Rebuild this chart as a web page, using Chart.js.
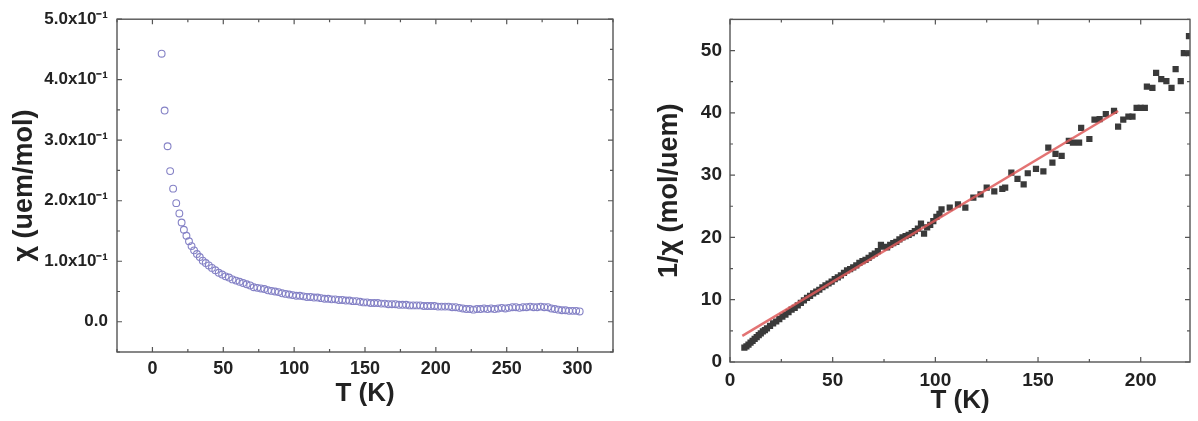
<!DOCTYPE html>
<html>
<head>
<meta charset="utf-8">
<script src="https://cdn.jsdelivr.net/npm/chart.js@4.4.0/dist/chart.umd.min.js"></script>
<style>
  html, body { margin: 0; padding: 0; background: #ffffff; }
  #wrap { position: relative; width: 1198px; height: 421px; overflow: hidden; }
  canvas { position: absolute; top: 0; }
  #c1 { left: 0; }
  #c2 { left: 600px; }
</style>
</head>
<body>
<div id="wrap">
  <canvas id="c1" width="620" height="421"></canvas>
  <canvas id="c2" width="598" height="421"></canvas>
</div>
<script>
// ---------- Left panel: chi vs T ----------
const chiT = [6.5, 8.6, 10.7, 12.5, 14.6, 16.8, 19, 20.6, 22.2, 24, 25.8, 27.6, 29.4, 31.4, 33.4, 35.5, 37.6, 39.8, 42, 44.4,
  46.8, 49.2, 51.6, 54, 56.5, 59, 61.5, 64, 66.5, 69, 71.5, 74, 76.5, 79, 81.5, 84, 86.5, 89, 91.5, 94,
  96.5, 99, 101.5, 104, 106.5, 109, 111.5, 114, 116.5, 119, 121.5, 124, 126.5, 129, 131.5, 134, 136.5, 139, 141.5, 144,
  146.5, 149, 151.5, 154, 156.5, 159, 161.5, 164, 166.5, 169, 171.5, 174, 176.5, 179, 181.5, 184, 186.5, 189, 191.5, 194,
  196.5, 199, 201.5, 204, 206.5, 209, 211.5, 214, 216.5, 219, 221.5, 224, 226.5, 229, 231.5, 234, 236.5, 239, 241.5, 244,
  246.5, 249, 251.5, 254, 256.5, 259, 261.5, 264, 266.5, 269, 271.5, 274, 276.5, 279, 281.5, 284, 286.5, 289, 291.5, 294,
  296.5, 299, 301.5];
const chiValues = [0.443, 0.349, 0.290, 0.249, 0.220, 0.196, 0.179, 0.164, 0.152, 0.142, 0.133, 0.125, 0.118, 0.112, 0.107, 0.101, 0.097, 0.093, 0.089, 0.085,
  0.081, 0.078, 0.075, 0.073, 0.070, 0.068, 0.066, 0.064, 0.062, 0.060, 0.057, 0.056, 0.055, 0.054, 0.052, 0.051, 0.050, 0.049, 0.047, 0.046,
  0.045, 0.044, 0.043, 0.043, 0.042, 0.041, 0.041, 0.040, 0.040, 0.039, 0.038, 0.038, 0.037, 0.037, 0.036, 0.036, 0.035, 0.035, 0.034, 0.034,
  0.033, 0.032, 0.032, 0.031, 0.031, 0.031, 0.030, 0.030, 0.029, 0.029, 0.029, 0.028, 0.028, 0.028, 0.027, 0.027, 0.027, 0.027, 0.026, 0.026,
  0.026, 0.026, 0.025, 0.025, 0.025, 0.025, 0.024, 0.024, 0.023, 0.022, 0.021, 0.021, 0.020, 0.021, 0.021, 0.022, 0.021, 0.022, 0.021, 0.022,
  0.023, 0.022, 0.023, 0.024, 0.024, 0.023, 0.024, 0.024, 0.025, 0.024, 0.024, 0.025, 0.024, 0.024, 0.022, 0.021, 0.020, 0.019, 0.019, 0.018,
  0.018, 0.018, 0.017];
const leftXTickValues = [0, 50, 100, 150, 200, 250, 300];
const leftYTickValues = [0, 0.1, 0.2, 0.3, 0.4, 0.5];
const leftYTickLabels = ['0.0', '1.0x10\u207B\u00B9', '2.0x10\u207B\u00B9', '3.0x10\u207B\u00B9', '4.0x10\u207B\u00B9', '5.0x10\u207B\u00B9'];

// ---------- Right panel: 1/chi vs T ----------
const invT = [7, 8, 9, 10, 11, 12, 13, 14, 15, 16, 17, 18, 19.5, 21, 22.5, 24, 25.5, 27, 28.5, 30,
  31.5, 33, 34.5, 36, 37.5, 39, 40.5, 42, 43.5, 45, 46.5, 48, 49.5, 51, 52.5, 54, 55.5, 57, 58.5, 60,
  61.5, 63, 64.5, 66, 67.5, 69, 70.5, 72, 73.5, 75, 76.5, 78, 79.5, 81, 82.5, 84, 85.5, 87, 88.5, 90,
  91.5, 93, 94.5, 96, 97.5, 99, 100.5, 102,
  103, 107, 111, 114.6, 118.5, 122, 125, 128.7, 132.6, 134, 137, 140, 143, 145, 149, 152.6, 155, 157, 158.5, 161.5,
  165, 167, 170, 171, 175, 177.5, 180, 183, 187, 189, 191.5, 194, 196, 198, 200, 202, 203, 205.7, 207.5, 210,
  212.5, 215, 217, 219.5, 221, 223.5, 223.5];
const invChiValues = [2.3, 2.5, 2.8, 3.1, 3.4, 3.7, 4.0, 4.3, 4.6, 4.9, 5.1, 5.4, 5.8, 6.2, 6.5, 6.9, 7.3, 7.6, 8.0, 8.4,
  8.7, 9.1, 9.5, 9.9, 10.3, 10.6, 11.0, 11.3, 11.6, 12.0, 12.3, 12.6, 12.9, 13.3, 13.6, 13.9, 14.3, 14.7, 14.9, 15.2,
  15.5, 15.9, 16.2, 16.4, 16.7, 17.1, 17.4, 17.8, 18.8, 18.5, 18.4, 18.8, 19.1, 19.3, 19.7, 20.0, 20.2, 20.4, 20.7, 21.0,
  21.4, 22.2, 20.6, 21.6, 22.0, 22.6, 23.3, 23.8,
  24.5, 24.8, 25.3, 24.8, 26.4, 26.9, 28.0, 27.4, 27.8, 28.0, 30.4, 29.4, 28.5, 30.3, 31.0, 30.6, 34.4, 32.0, 33.4, 33.1,
  35.5, 35.2, 35.2, 37.6, 35.8, 38.9, 39.0, 39.8, 40.3, 37.8, 38.9, 39.4, 39.4, 40.8, 40.8, 40.8, 44.2, 44.0, 46.4, 45.4,
  45.1, 44.0, 47.0, 45.1, 49.6, 49.6, 52.3];
const fitT = [6, 189];
const fitValues = [4.2, 40.3];
const rightXTickValues = [0, 50, 100, 150, 200];
const rightYTickValues = [0, 10, 20, 30, 40, 50];

const FONT = "'Liberation Sans', Arial, sans-serif";
const TXT = '#222222';

function pts(xs, ys) { return xs.map((x, i) => ({ x: x, y: ys[i] })); }
function fixTicks(vals) { return (s) => { s.ticks = vals.map(v => ({ value: v })); }; }

// frame + inward ticks on all four sides, positioned by the chart's own scales
const framePlugin = {
  id: 'frame',
  afterDatasetsDraw(chart) {
    const { ctx, chartArea: a, scales } = chart;
    ctx.save();
    ctx.strokeStyle = '#555555';
    ctx.lineWidth = 1.4;
    ctx.strokeRect(a.left, a.top, a.right - a.left, a.bottom - a.top);
    ctx.lineWidth = 1.2;
    const marks = (s) => {
      const v = s.ticks.map(t => t.value);
      const step = v[1] - v[0];
      const half = step / 2;
      const out = [];
      const start = Math.ceil((s.min - 1e-9) / half);
      const end = Math.floor((s.max + 1e-9) / half);
      for (let k = start; k <= end; k++) {
        out.push({ v: k * half, major: Math.abs(k % 2) === 0 });
      }
      return out;
    };
    marks(scales.x).forEach(m => {
      const px = scales.x.getPixelForValue(m.v);
      const L = m.major ? 5 : 3;
      ctx.beginPath();
      ctx.moveTo(px, a.bottom); ctx.lineTo(px, a.bottom - L);
      ctx.moveTo(px, a.top); ctx.lineTo(px, a.top + L);
      ctx.stroke();
    });
    marks(scales.y).forEach(m => {
      const py = scales.y.getPixelForValue(m.v);
      const L = m.major ? 5 : 3;
      ctx.beginPath();
      ctx.moveTo(a.left, py); ctx.lineTo(a.left + L, py);
      ctx.moveTo(a.right, py); ctx.lineTo(a.right - L, py);
      ctx.stroke();
    });
    ctx.restore();
  }
};

Chart.defaults.font.family = FONT;
Chart.defaults.color = TXT;

new Chart(document.getElementById('c1'), {
  type: 'scatter',
  data: {
    datasets: [{
      data: pts(chiT, chiValues),
      pointStyle: 'circle',
      pointRadius: 3.4,
      pointBorderWidth: 1.1,
      borderColor: '#8582c6',
      backgroundColor: 'rgba(255,255,255,0)',
      showLine: false
    }]
  },
  options: {
    responsive: false, animation: false, devicePixelRatio: 1,
    layout: { padding: { top: 16, right: 7, left: 0, bottom: 0 } },
    plugins: { legend: { display: false }, tooltip: { enabled: false } },
    scales: {
      x: {
        type: 'linear', min: -25, max: 325,
        afterBuildTicks: fixTicks(leftXTickValues),
        ticks: { autoSkip: false, maxRotation: 0, padding: 6,
                 font: { size: 18, weight: 'bold' }, color: TXT },
        grid: { display: false, drawTicks: false },
        border: { display: false },
        title: { display: true, text: 'T (K)', font: { size: 26, weight: 'bold', lineHeight: 1 },
                 padding: { top: 0, bottom: 14 }, color: TXT },
        afterFit: s => { s.height = 69; }
      },
      y: {
        type: 'linear', min: -0.05, max: 0.5,
        afterBuildTicks: fixTicks(leftYTickValues),
        ticks: { autoSkip: false, padding: 9,
                 font: { size: 17, weight: 'bold' }, color: TXT,
                 callback: (v) => {
                   const i = leftYTickValues.findIndex(t => Math.abs(t - v) < 1e-6);
                   return i >= 0 ? leftYTickLabels[i] : '';
                 } },
        grid: { display: false, drawTicks: false },
        border: { display: false },
        title: { display: true, text: '\u03C7 (uem/mol)', font: { size: 27, weight: 'bold', lineHeight: 1 },
                 padding: { top: 11, bottom: 0 }, color: TXT },
        afterFit: s => { s.width = 117; }
      }
    }
  },
  plugins: [framePlugin]
});

new Chart(document.getElementById('c2'), {
  type: 'scatter',
  data: {
    datasets: [{
      data: pts(fitT, fitValues),
      showLine: true,
      borderColor: 'rgba(222,90,90,0.85)',
      borderWidth: 2.5,
      pointRadius: 0,
      fill: false
    }, {
      data: pts(invT, invChiValues),
      pointStyle: 'rect',
      pointRadius: 4.4,
      pointBorderWidth: 0,
      backgroundColor: '#3a3a3a',
      borderColor: '#3a3a3a',
      showLine: false
    }]
  },
  options: {
    responsive: false, animation: false, devicePixelRatio: 1,
    layout: { padding: { top: 18, right: 8, left: 0, bottom: 0 } },
    plugins: { legend: { display: false }, tooltip: { enabled: false } },
    scales: {
      x: {
        type: 'linear', min: 0, max: 224,
        afterBuildTicks: fixTicks(rightXTickValues),
        ticks: { autoSkip: false, maxRotation: 0, padding: 7,
                 font: { size: 19, weight: 'bold' }, color: TXT },
        grid: { display: false, drawTicks: false },
        border: { display: false },
        title: { display: true, text: 'T (K)', font: { size: 26, weight: 'bold', lineHeight: 1 },
                 padding: { top: 0, bottom: 7 }, color: TXT },
        afterFit: s => { s.height = 59; }
      },
      y: {
        type: 'linear', min: 0, max: 55,
        afterBuildTicks: fixTicks(rightYTickValues),
        ticks: { autoSkip: false, padding: 8,
                 font: { size: 19, weight: 'bold' }, color: TXT },
        grid: { display: false, drawTicks: false },
        border: { display: false },
        title: { display: true, text: '1/\u03C7 (mol/uem)', font: { size: 27, weight: 'bold', lineHeight: 1 },
                 padding: { top: 56, bottom: 0 }, color: TXT },
        afterFit: s => { s.width = 130; }
      }
    }
  },
  plugins: [framePlugin]
});
</script>
</body>
</html>
